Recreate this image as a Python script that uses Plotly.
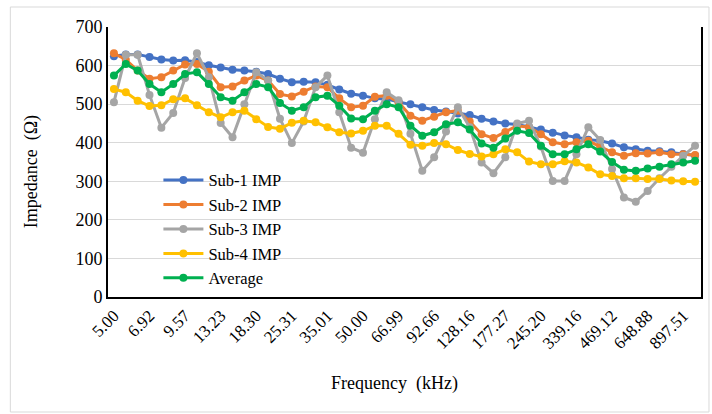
import plotly.graph_objects as go

# Category labels shown on the axis (every 3rd frequency point, kHz)
tick_labels = ["5.00", "6.92", "9.57", "13.23", "18.30", "25.31", "35.01", "50.00",
               "66.99", "92.66", "128.16", "177.27", "245.20", "339.16", "469.12",
               "648.88", "897.51"]
n_points = 50
x_idx = list(range(n_points))
tick_idx = list(range(0, n_points, 3))

sub1 = [624, 629, 629, 622, 616, 613, 614, 609, 601, 595,
        589, 587, 584, 578, 566, 557, 558, 557, 550, 538,
        527, 522, 515, 513, 506, 500, 492, 485, 481, 476,
        472, 462, 455, 450, 447, 441, 434, 426, 419, 414,
        408, 405, 398, 388, 383, 379, 378, 375, 371, 367]
sub2 = [632, 615, 587, 566, 570, 587, 603, 604, 584, 544,
        546, 561, 574, 561, 526, 520, 532, 546, 544, 515,
        492, 496, 519, 522, 505, 470, 457, 467, 479, 483,
        455, 422, 412, 428, 444, 440, 422, 401, 396, 401,
        405, 390, 375, 366, 373, 372, 375, 370, 370, 368]
sub3 = [505, 628, 628, 524, 439, 477, 568, 632, 570, 451,
        414, 500, 583, 561, 462, 399, 455, 544, 574, 479,
        387, 374, 461, 531, 510, 423, 327, 362, 429, 492,
        440, 349, 321, 362, 450, 457, 390, 301, 301, 370,
        440, 407, 332, 258, 247, 275, 308, 338, 366, 392]
sub4 = [539, 531, 509, 495, 497, 513, 515, 497, 479, 466,
        479, 483, 461, 441, 436, 452, 457, 453, 440, 427,
        424, 431, 444, 444, 423, 395, 392, 399, 396, 381,
        371, 364, 370, 383, 375, 351, 344, 344, 352, 349,
        336, 318, 314, 308, 308, 306, 306, 302, 300, 299]
average = [574, 604, 587, 552, 531, 552, 578, 583, 552, 518,
           509, 531, 552, 544, 503, 483, 492, 518, 522, 496,
           463, 461, 483, 500, 492, 444, 418, 427, 448, 453,
           434, 398, 387, 411, 431, 425, 392, 370, 370, 383,
           396, 377, 350, 330, 327, 333, 338, 344, 349, 353]

series = [("Sub-1 IMP", sub1, "#4472C4"),
          ("Sub-2 IMP", sub2, "#ED7D31"),
          ("Sub-3 IMP", sub3, "#A5A5A5"),
          ("Sub-4 IMP", sub4, "#FFC000"),
          ("Average", average, "#00B050")]

FONT = "Times New Roman, Liberation Serif, serif"

fig = go.Figure()
for name, vals, col in series:
    fig.add_trace(go.Scatter(x=x_idx, y=vals, name=name, mode="lines+markers",
                             line=dict(color=col, width=3),
                             marker=dict(color=col, size=8)))

fig.update_layout(
    width=712, height=414,
    margin=dict(l=108, r=9, t=27, b=117),
    paper_bgcolor="white", plot_bgcolor="white",
    font=dict(family=FONT, size=17, color="black"),
    showlegend=True,
    legend=dict(x=0.085, y=0.497, xanchor="left", yanchor="top",
                bgcolor="rgba(0,0,0,0)", font=dict(family=FONT, size=16.5),
                tracegroupgap=0, itemwidth=40),
    xaxis=dict(range=[-0.5, n_points - 0.5], tickmode="array",
               tickvals=tick_idx, ticktext=tick_labels, tickangle=-45,
               showgrid=False, showline=True, linecolor="black", linewidth=2,
               ticks="", zeroline=False, tickfont=dict(size=17)),
    yaxis=dict(range=[0, 700], tickmode="array", tickvals=list(range(0, 701, 100)),
               showgrid=True, gridcolor="#d9d9d9", gridwidth=1,
               showline=True, mirror=True, linecolor="black", linewidth=2,
               ticks="", zeroline=False, tickfont=dict(size=18)),
    annotations=[
        dict(text="Impedance\u00a0 (Ω)", xref="paper", yref="paper",
             x=(32 - 108) / 595, y=(297 - 172) / 270, textangle=-90,
             showarrow=False, font=dict(size=18), xanchor="center", yanchor="middle"),
        dict(text="Frequency\u00a0 (kHz)", xref="paper", yref="paper",
             x=(395 - 108) / 595, y=(297 - 383) / 270,
             showarrow=False, font=dict(size=18), xanchor="center", yanchor="middle"),
    ],
    shapes=[dict(type="rect", xref="paper", yref="paper",
                 x0=(10 - 108) / 595, x1=(711 - 108) / 595,
                 y0=(297 - 412) / 270, y1=(297 - 7) / 270,
                 line=dict(color="#d9d9d9", width=1), layer="below")],
)

fig.write_html("out.html")
